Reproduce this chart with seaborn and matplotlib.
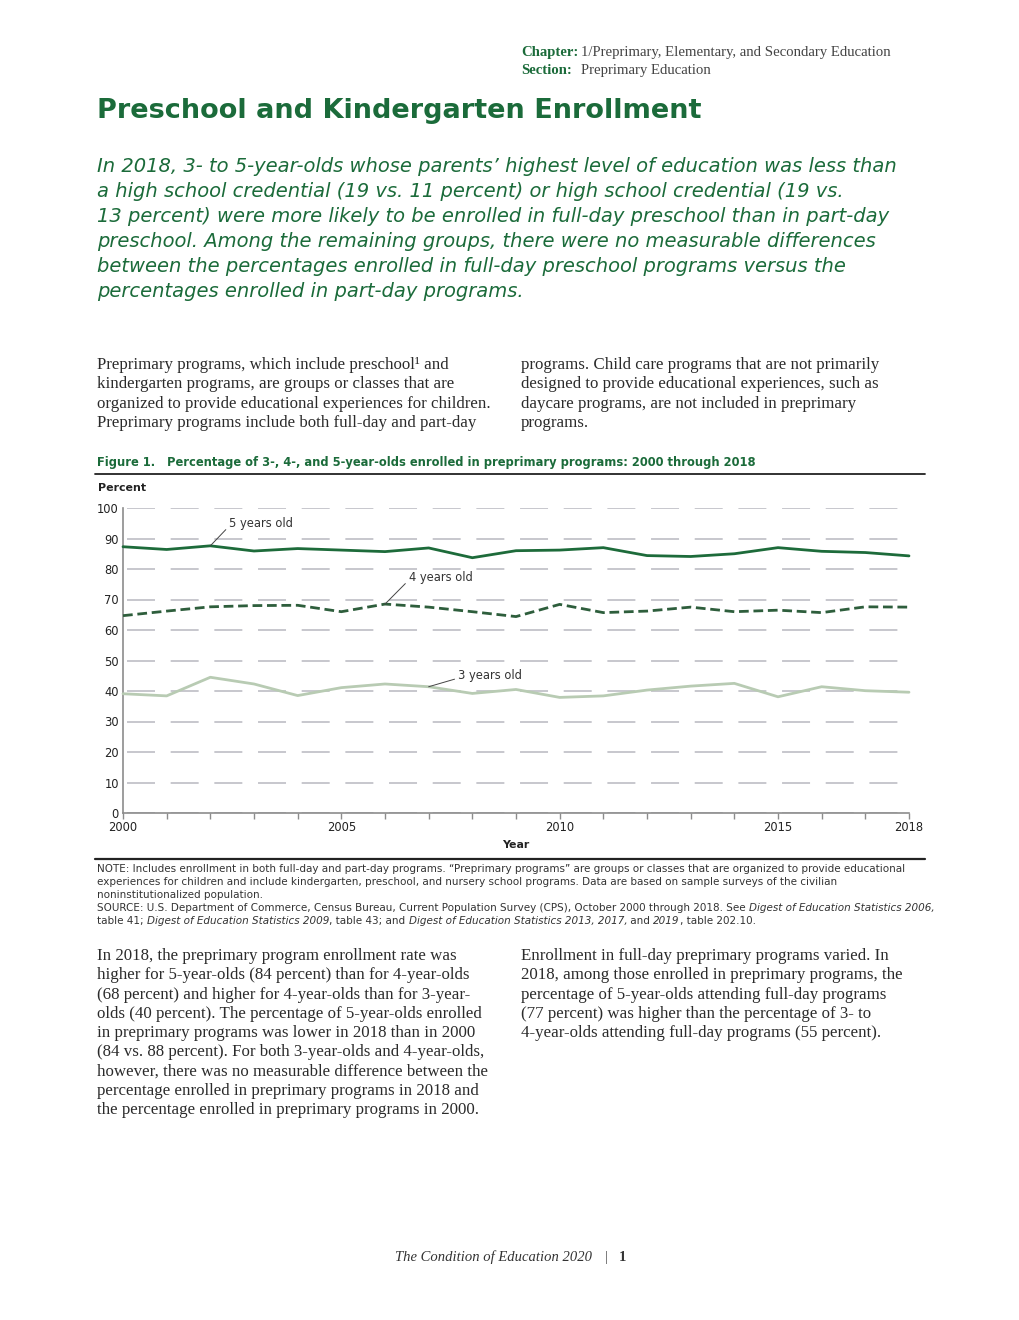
import numpy as np
import pandas as pd
import matplotlib
matplotlib.use("Agg")
import matplotlib.pyplot as plt
import seaborn as sns

# ----------------------------------------------
# Data
# ----------------------------------------------
YEARS = list(range(2000, 2019))
AGE5 = [87.3, 86.4, 87.6, 85.9, 86.7, 86.2, 85.7, 86.9, 83.7, 86.0,
        86.2, 87.0, 84.4, 84.1, 85.0, 87.0, 85.8, 85.4, 84.3]
AGE4 = [64.7, 66.2, 67.6, 68.0, 68.1, 66.0, 68.5, 67.5, 66.0, 64.4,
        68.4, 65.7, 66.2, 67.5, 66.0, 66.5, 65.7, 67.6, 67.5]
AGE3 = [39.1, 38.4, 44.5, 42.3, 38.5, 41.1, 42.3, 41.4, 39.2, 40.5,
        37.9, 38.4, 40.3, 41.6, 42.5, 38.1, 41.4, 40.1, 39.6]
SERIES = ["5 years old", "4 years old", "3 years old"]
YTICKS = list(range(0, 101, 10))
XLABELED = [2000, 2005, 2010, 2015, 2018]

TITLE = "Preschool and Kindergarten Enrollment"
FIG_TITLE = "Figure 1.   Percentage of 3-, 4-, and 5-year-olds enrolled in preprimary programs: 2000 through 2018"
SUBTITLE = [
    "In 2018, 3- to 5-year-olds whose parents\u2019 highest level of education was less than",
    "a high school credential (19 vs. 11 percent) or high school credential (19 vs.",
    "13 percent) were more likely to be enrolled in full-day preschool than in part-day",
    "preschool. Among the remaining groups, there were no measurable differences",
    "between the percentages enrolled in full-day preschool programs versus the",
    "percentages enrolled in part-day programs.",
]
INTRO_LEFT = [
    "Preprimary programs, which include preschool\u00b9 and",
    "kindergarten programs, are groups or classes that are",
    "organized to provide educational experiences for children.",
    "Preprimary programs include both full-day and part-day",
]
INTRO_RIGHT = [
    "programs. Child care programs that are not primarily",
    "designed to provide educational experiences, such as",
    "daycare programs, are not included in preprimary",
    "programs.",
]
BODY_LEFT = [
    "In 2018, the preprimary program enrollment rate was",
    "higher for 5-year-olds (84 percent) than for 4-year-olds",
    "(68 percent) and higher for 4-year-olds than for 3-year-",
    "olds (40 percent). The percentage of 5-year-olds enrolled",
    "in preprimary programs was lower in 2018 than in 2000",
    "(84 vs. 88 percent). For both 3-year-olds and 4-year-olds,",
    "however, there was no measurable difference between the",
    "percentage enrolled in preprimary programs in 2018 and",
    "the percentage enrolled in preprimary programs in 2000.",
]
BODY_RIGHT = [
    "Enrollment in full-day preprimary programs varied. In",
    "2018, among those enrolled in preprimary programs, the",
    "percentage of 5-year-olds attending full-day programs",
    "(77 percent) was higher than the percentage of 3- to",
    "4-year-olds attending full-day programs (55 percent).",
]
NOTE = [
    [("NOTE: Includes enrollment in both full-day and part-day programs. \u201cPreprimary programs\u201d are groups or classes that are organized to provide educational", "normal")],
    [("experiences for children and include kindergarten, preschool, and nursery school programs. Data are based on sample surveys of the civilian", "normal")],
    [("noninstitutionalized population.", "normal")],
    [("SOURCE: U.S. Department of Commerce, Census Bureau, Current Population Survey (CPS), October 2000 through 2018. See ", "normal"),
     ("Digest of Education Statistics 2006,", "italic")],
    [("table 41; ", "normal"), ("Digest of Education Statistics 2009", "italic"),
     (", table 43; and ", "normal"), ("Digest of Education Statistics 2013, 2017,", "italic"),
     (" and ", "normal"), ("2019", "italic"), (", table 202.10.", "normal")],
]

# ----------------------------------------------
# Style
# ----------------------------------------------
sns.set_theme(style="white")
plt.rcParams.update({
    "font.family": "DejaVu Sans",
    "lines.scale_dashes": False,
})

GREEN = "#1b6b3a"
TEXT = "#2b2b2b"
GRID = "#b8b8c0"
AXIS = "#8c8c8c"
PALETTE = {"5 years old": "#1d6b3a", "4 years old": "#2e5e3c", "3 years old": "#b8cbb3"}
DASHES = {"5 years old": "", "4 years old": (7.0, 3.4), "3 years old": ""}
SANS = "DejaVu Sans"
SERIF = "Liberation Serif"

fig = plt.figure(figsize=(10.2, 13.2), dpi=100)
fig.patch.set_facecolor("white")

# page layer in pixel units
page = fig.add_axes([0, 0, 1, 1], zorder=-1)
page.set_xlim(0, 1020)
page.set_ylim(1320, 0)
page.axis("off")
renderer = fig.canvas.get_renderer()


def fit(text, width_px, **kw):
    """Font size at which `text` spans width_px pixels."""
    t = page.text(0, 0, text, fontsize=10, **kw)
    w = t.get_window_extent(renderer).width
    t.remove()
    return 10 * width_px / w


def seg_line(x, y, segs, **kw):
    """Draw consecutive text segments with different styles on one baseline."""
    for s, style in segs:
        t = page.text(x, y, s, va="baseline", ha="left", fontstyle=style, **kw)
        x += t.get_window_extent(renderer).width


# header
fs_head = fit("Chapter: 1/Preprimary, Elementary, and Secondary Education", 366, family=SERIF)
t0 = page.text(521, 56, "Chapter:", family=SERIF, fontsize=fs_head, fontweight="bold",
               color=GREEN, va="baseline")
w0 = t0.get_window_extent(renderer).width
page.text(521 + w0 + 3, 56, "1/Preprimary, Elementary, and Secondary Education",
          family=SERIF, fontsize=fs_head, color="#444444", va="baseline")
page.text(521, 74, "Section:", family=SERIF, fontsize=fs_head, fontweight="bold",
          color=GREEN, va="baseline")
page.text(581, 74, "Preprimary Education", family=SERIF, fontsize=fs_head,
          color="#444444", va="baseline")

fs_title = fit(TITLE, 606, family=SANS, fontweight="bold")
page.text(97, 118, TITLE, family=SANS, fontsize=fs_title, fontweight="bold",
          color=GREEN, va="baseline")

fs_sub = fit(SUBTITLE[0], 798, family=SANS, fontstyle="italic")
for i, line in enumerate(SUBTITLE):
    page.text(97, 172 + 25 * i, line, family=SANS, fontsize=fs_sub,
              fontstyle="italic", color=GREEN, va="baseline")

fs_body = fit(INTRO_LEFT[2], 393, family=SERIF)
for i, line in enumerate(INTRO_LEFT):
    page.text(97, 369 + 19.3 * i, line, family=SERIF, fontsize=fs_body,
              color=TEXT, va="baseline")
for i, line in enumerate(INTRO_RIGHT):
    page.text(521, 369 + 19.3 * i, line, family=SERIF, fontsize=fs_body,
              color=TEXT, va="baseline")

fs_fig = fit(FIG_TITLE, 659, family=SANS, fontweight="bold")
page.text(97, 466, FIG_TITLE, family=SANS, fontsize=fs_fig, fontweight="bold",
          color=GREEN, va="baseline")
page.plot([95, 925], [474, 474], color="#222222", lw=1.3)
page.plot([95, 925], [859, 859], color="#222222", lw=1.6)

fs_chart = fit("5 years old", 64, family=SANS)
page.text(98, 491, "Percent", family=SANS, fontsize=fs_chart * 0.95, fontweight="bold",
          color="#222222", va="baseline")
page.text(516, 848, "Year", family=SANS, fontsize=fs_chart * 0.95, fontweight="bold",
          color="#222222", va="baseline", ha="center")

fs_note = fit(NOTE[0][0][0], 805, family=SANS)
for i, segs in enumerate(NOTE):
    seg_line(97, 872 + 13 * i, segs, family=SANS, fontsize=fs_note, color="#333333")

for i, line in enumerate(BODY_LEFT):
    page.text(97, 960 + 19.3 * i, line, family=SERIF, fontsize=fs_body,
              color=TEXT, va="baseline")
for i, line in enumerate(BODY_RIGHT):
    page.text(521, 960 + 19.3 * i, line, family=SERIF, fontsize=fs_body,
              color=TEXT, va="baseline")

# footer
fs_foot = fit("The Condition of Education 2020", 197, family=SERIF, fontstyle="italic")
page.text(592, 1261, "The Condition of Education 2020", family=SERIF,
          fontsize=fs_foot, fontstyle="italic", color="#333333",
          va="baseline", ha="right")
page.text(606, 1261, "|", family=SERIF, fontsize=fs_foot, color="#555555",
          va="baseline", ha="center")
page.text(622, 1261, "1", family=SERIF, fontsize=fs_foot, fontweight="bold",
          color="#333333", va="baseline", ha="center")

# ----------------------------------------------
# Chart
# ----------------------------------------------
ax = fig.add_axes([123 / 1020, 1 - 813 / 1320, (909 - 123) / 1020, (813 - 508) / 1320])
ax.set_facecolor("none")

df = pd.DataFrame({
    "year": YEARS * 3,
    "value": AGE5 + AGE4 + AGE3,
    "age": [s for s in SERIES for _ in YEARS],
})
sns.lineplot(data=df, x="year", y="value", hue="age", style="age",
             palette=PALETTE, dashes=DASHES, linewidth=2.0, legend=False,
             ax=ax, clip_on=False, zorder=3)

ax.set_xlim(2000, 2018)
ax.set_ylim(0, 100)
ax.set_xlabel("")
ax.set_ylabel("")

# dashed grid: one dash per year interval
px_pt = 72 / 100
period = 43.67 * px_pt
ax.set_yticks(YTICKS)
ax.set_yticklabels([str(v) for v in YTICKS])
ax.yaxis.grid(True, color=GRID, lw=1.1,
              linestyle=(period - 4 * px_pt, (28 * px_pt, 15.67 * px_pt)))
ax.xaxis.grid(False)
ax.set_axisbelow(True)

ax.set_xticks(YEARS)
ax.set_xticklabels([str(y) if y in XLABELED else "" for y in YEARS])
ax.tick_params(axis="x", bottom=True, length=4.5, width=1, color=AXIS,
               direction="out", labelsize=fs_chart, labelcolor="#222222", pad=1.5)
ax.tick_params(axis="y", length=0, labelsize=fs_chart, labelcolor="#222222", pad=3)

for side in ["top", "right"]:
    ax.spines[side].set_visible(False)
for side in ["left", "bottom"]:
    ax.spines[side].set_color(AXIS)
    ax.spines[side].set_linewidth(1.2)

# series labels with leader lines
lead = dict(arrowstyle="-", color="#444444", lw=0.7, shrinkA=0, shrinkB=0)
ax.annotate("5 years old", xy=(2002, AGE5[2]), xytext=(13.5, 16),
            textcoords="offset points", fontsize=fs_chart, color="#333333",
            va="center", ha="left", arrowprops=dict(lead, relpos=(0, 0.3)))
ax.annotate("4 years old", xy=(2006, AGE4[6]), xytext=(17, 19),
            textcoords="offset points", fontsize=fs_chart, color="#333333",
            va="center", ha="left", arrowprops=dict(lead, relpos=(0, 0.3)))
ax.annotate("3 years old", xy=(2007, AGE3[7]), xytext=(21, 8),
            textcoords="offset points", fontsize=fs_chart, color="#333333",
            va="center", ha="left", arrowprops=dict(lead, relpos=(0, 0.3)))

fig.savefig("out.png", dpi=100, facecolor="white")
